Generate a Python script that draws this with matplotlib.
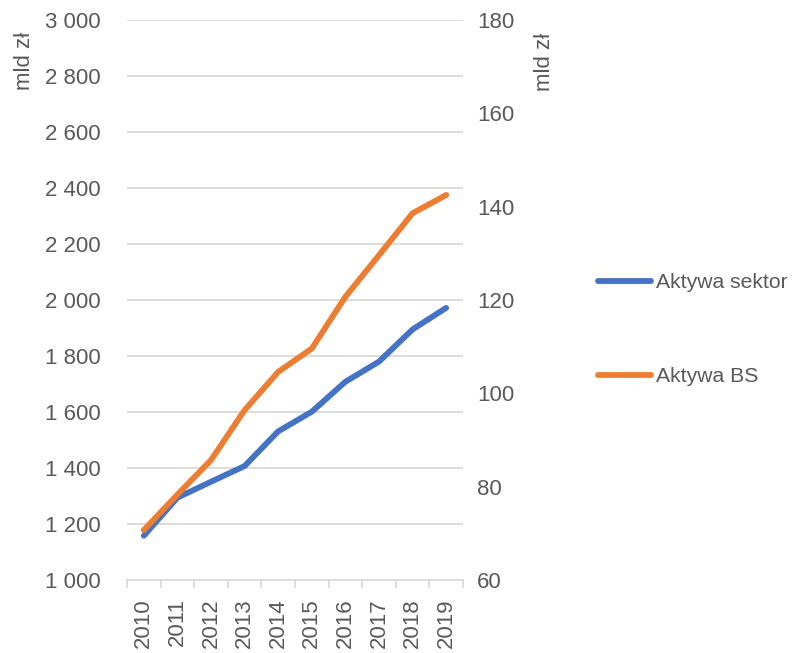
import matplotlib.pyplot as plt
from matplotlib.ticker import FuncFormatter, FixedLocator

plt.rcParams['font.family'] = ['Liberation Sans', 'DejaVu Sans']

# data
years = ['2010', '2011', '2012', '2013', '2014', '2015', '2016', '2017', '2018', '2019']
aktywa_sektor = [1158, 1294, 1351, 1407, 1531, 1601, 1708, 1780, 1895, 1972]   # left axis, mld zl
aktywa_bs = [70.7, 78.3, 85.7, 96.4, 104.6, 109.6, 120.7, 129.6, 138.6, 142.5]  # right axis, mld zl

BLUE = '#4472C4'
ORANGE = '#ED7D31'
GRID = '#D9D9D9'
TXT = '#595959'
FS = 16

fig = plt.figure(figsize=(7.92, 6.53), dpi=100)
ax = fig.add_axes([127 / 792, 73 / 653, 336 / 792, 560 / 653])
ax2 = ax.twinx()

x = list(range(len(years)))
l1, = ax.plot(x, aktywa_sektor, color=BLUE, lw=4.2, solid_capstyle='round', label='Aktywa sektor')
l2, = ax2.plot(x, aktywa_bs, color=ORANGE, lw=4.2, solid_capstyle='round', label='Aktywa BS')

ax.set_xlim(-0.5, len(years) - 0.5)
ax.set_ylim(1000, 3000)
ax.set_yticks(range(1000, 3001, 200))
ax.yaxis.set_major_formatter(FuncFormatter(lambda v, p: f'{int(v):,}'.replace(',', ' ')))
ax2.set_ylim(60, 180)
ax2.set_yticks(range(60, 181, 20))

ax.grid(axis='y', color=GRID, lw=1.3)
ax.set_axisbelow(True)
for a in (ax, ax2):
    for s in a.spines.values():
        s.set_visible(False)
ax.spines['bottom'].set_visible(True)
ax.spines['bottom'].set_color(GRID)
ax.spines['bottom'].set_linewidth(1.3)

# category boundaries as tick marks, labels at the centres
ax.xaxis.set_major_locator(FixedLocator([i - 0.5 for i in range(len(years) + 1)]))
ax.xaxis.set_major_formatter(FuncFormatter(lambda v, p: ''))
ax.xaxis.set_minor_locator(FixedLocator(x))
ax.set_xticklabels(years, minor=True, rotation=90)
ax.tick_params(axis='x', which='major', length=6, width=1.3, color=GRID, direction='out')
ax.tick_params(axis='x', which='minor', length=0, pad=13, labelsize=FS, labelcolor=TXT)
ax.tick_params(axis='y', length=0, pad=19, labelsize=FS, labelcolor=TXT)
ax2.tick_params(axis='y', length=0, pad=10, labelsize=FS, labelcolor=TXT)

fig.text(24 / 792, 1 - 61 / 653, 'mld zł', rotation=90, ha='center', va='center', fontsize=FS, color=TXT)
fig.text(545 / 792, 1 - 62 / 653, 'mld zł', rotation=90, ha='center', va='center', fontsize=FS, color=TXT)

fig.legend(handles=[l1, l2], loc='center left', bbox_to_anchor=(598 / 792, 1 - 329.5 / 653),
           frameon=False, fontsize=15.2, labelcolor=TXT, handlelength=2.5, handletextpad=0.25,
           labelspacing=3.55, borderpad=0, borderaxespad=0)

fig.savefig('out.png', dpi=100)
